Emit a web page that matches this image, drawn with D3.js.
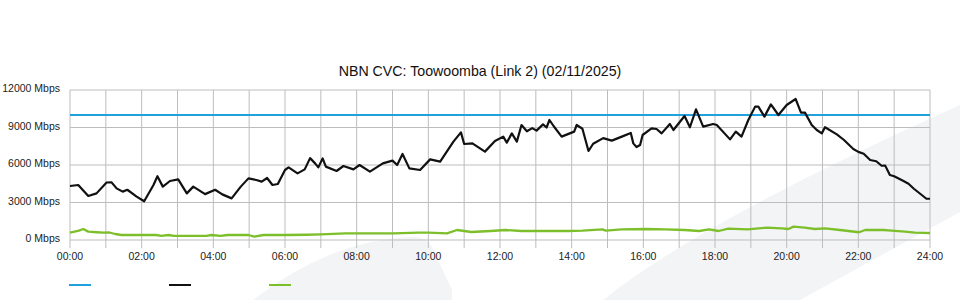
<!DOCTYPE html>
<html>
<head>
<meta charset="utf-8">
<script src="https://cdn.jsdelivr.net/npm/d3@7"></script>
<style>
  html, body { margin: 0; padding: 0; background: #fff; }
  svg { display: block; font-family: "Liberation Sans", Arial, sans-serif; }
</style>
</head>
<body>
<svg id="chart" width="960" height="300"></svg>
<script>
const chartTitle = "NBN CVC: Toowoomba (Link 2) (02/11/2025)";
const yTickValues = [0, 3000, 6000, 9000, 12000];
const xTickHours = [0, 2, 4, 6, 8, 10, 12, 14, 16, 18, 20, 22, 24];
const xTickLabels = ["00:00","02:00","04:00","06:00","08:00","10:00","12:00","14:00","16:00","18:00","20:00","22:00","24:00"];
const gridHours = [0,1,2,3,4,5,6,7,8,9,10,11,12,13,14,15,16,17,18,19,20,21,22,23,24];
const capacityMbps = 10000;

// Traffic (black) series
const trafficHours = [0.00,0.23,0.51,0.74,1.02,1.16,1.30,1.47,1.60,1.86,2.07,2.33,2.44,2.59,2.79,3.02,3.26,3.44,3.77,4.05,4.25,4.51,4.76,4.98,5.20,5.35,5.50,5.65,5.80,6.00,6.10,6.35,6.55,6.70,6.84,6.93,7.05,7.14,7.44,7.63,7.91,8.08,8.37,8.73,9.00,9.13,9.28,9.47,9.77,10.05,10.33,10.70,10.91,11.00,11.23,11.58,11.86,12.09,12.19,12.33,12.47,12.60,12.75,12.90,13.02,13.20,13.30,13.38,13.50,13.72,14.07,14.14,14.30,14.47,14.60,14.88,15.12,15.40,15.65,15.72,15.81,15.91,15.98,16.23,16.37,16.51,16.74,16.84,17.15,17.30,17.47,17.67,17.95,18.05,18.42,18.58,18.74,18.93,19.12,19.21,19.38,19.56,19.77,20.00,20.25,20.40,20.51,20.70,20.84,20.98,21.07,21.40,21.60,21.86,22.00,22.15,22.33,22.50,22.65,22.75,22.88,23.00,23.26,23.40,23.55,23.77,23.90,24.00];
const trafficMbps = [4320,4400,3520,3730,4600,4610,4130,3870,4020,3470,3100,4400,5100,4270,4720,4850,3730,4270,3670,4020,3650,3330,4250,4930,4800,4670,4960,4400,4480,5600,5810,5330,5650,6550,6130,5810,6530,5870,5520,5920,5650,6000,5470,6130,6350,6000,6880,5730,5600,6450,6270,7870,8610,7680,7730,7070,7920,8270,7790,8530,7870,9200,8700,8950,8750,9250,9000,9600,9100,8270,8670,9200,8900,7120,7700,8150,7950,8270,8560,7730,7440,7600,8400,8930,8880,8530,9280,8800,9920,9020,10450,9070,9280,9200,8050,8670,8270,9600,10670,10670,9870,10850,10000,10800,11280,10190,10190,9200,8800,8530,9020,8450,8000,7280,7050,6900,6400,6300,5940,5950,5200,5100,4720,4500,4100,3600,3300,3300];

// Green series
const greenHours = [0.00,0.25,0.37,0.51,0.75,0.93,1.10,1.26,1.44,2.40,2.55,2.75,2.90,3.80,3.95,4.20,4.40,4.98,5.14,5.40,6.00,6.60,7.00,7.69,9.04,9.71,10.01,10.52,10.80,11.20,11.74,12.15,12.60,13.10,13.90,14.30,14.86,14.95,15.40,16.07,16.60,17.15,17.56,17.83,18.10,18.37,18.91,19.45,19.86,20.05,20.19,20.50,20.79,21.07,21.49,22.02,22.19,22.70,22.93,23.30,23.58,24.00];
const greenMbps = [590,750,880,670,620,590,600,480,400,400,330,400,330,330,400,330,400,400,270,400,400,420,450,530,530,590,590,530,800,640,720,800,720,720,720,750,850,750,850,880,850,800,720,850,720,910,850,990,930,880,1070,990,880,930,800,620,800,800,750,670,590,560];

const legendColors = ["#1fa1dd", "#111111", "#7dbf2b"];

const svg = d3.select("#chart");
const x = d3.scaleLinear().domain([0, 24]).range([70, 930]);
const y = d3.scaleLinear().domain([0, 12000]).range([240, 90]);

// Background watermark shapes
svg.append("path")
  .attr("d", "M253,300 Q330,240 412,237 Q426,236 432,247 L452,290 L452,300 Z")
  .attr("fill", "#f3f4f6");
svg.append("path")
  .attr("d", "M603,300 Q700,222 960,105 L960,212 L800,300 Z")
  .attr("fill", "#f3f4f6");

// Gridlines
const grid = svg.append("g");
grid.selectAll("line.v").data(gridHours).enter().append("line")
  .attr("x1", d => x(d)).attr("x2", d => x(d))
  .attr("y1", y(12000)).attr("y2", y(0) + 8)
  .attr("stroke", "#bdbdbd").attr("stroke-width", 1);
grid.selectAll("line.h").data(yTickValues).enter().append("line")
  .attr("x1", x(0)).attr("x2", x(24))
  .attr("y1", d => y(d)).attr("y2", d => y(d))
  .attr("stroke", "#bdbdbd").attr("stroke-width", 1);

// Y axis labels
svg.append("g").selectAll("text").data(yTickValues).enter().append("text")
  .attr("x", 60).attr("y", d => y(d) + 2)
  .attr("text-anchor", "end")
  .attr("font-size", "10.5px").attr("fill", "#222")
  .text(d => d + " Mbps");

// X axis labels
svg.append("g").selectAll("text").data(xTickHours).enter().append("text")
  .attr("x", d => x(d)).attr("y", 260)
  .attr("text-anchor", "middle")
  .attr("font-size", "10.5px").attr("fill", "#222")
  .text((d, i) => xTickLabels[i]);

// Title
svg.append("text")
  .attr("x", 480).attr("y", 76)
  .attr("text-anchor", "middle")
  .attr("font-size", "14.2px").attr("fill", "#111")
  .text(chartTitle);

// Capacity line
svg.append("line")
  .attr("x1", x(0)).attr("x2", x(24))
  .attr("y1", y(capacityMbps)).attr("y2", y(capacityMbps))
  .attr("stroke", legendColors[0]).attr("stroke-width", 2);

const line = d3.line().x(d => x(d[0])).y(d => y(d[1]));

svg.append("path")
  .datum(greenHours.map((h, i) => [h, greenMbps[i]]))
  .attr("d", line)
  .attr("fill", "none").attr("stroke", legendColors[2]).attr("stroke-width", 2.3)
  .attr("stroke-linejoin", "round");

svg.append("path")
  .datum(trafficHours.map((h, i) => [h, trafficMbps[i]]))
  .attr("d", line)
  .attr("fill", "none").attr("stroke", legendColors[1]).attr("stroke-width", 2.2)
  .attr("stroke-linejoin", "round");

// Legend swatches
svg.append("g").selectAll("line").data(legendColors).enter().append("line")
  .attr("x1", (d, i) => 69 + i * 100).attr("x2", (d, i) => 91 + i * 100)
  .attr("y1", 285).attr("y2", 285)
  .attr("stroke", d => d).attr("stroke-width", 2);
</script>
</body>
</html>
